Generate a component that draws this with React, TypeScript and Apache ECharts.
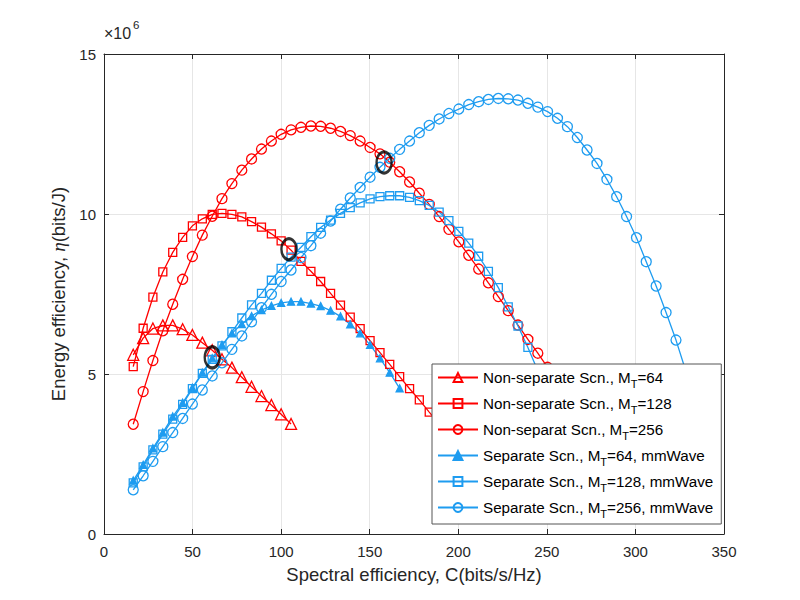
import React, { useEffect, useRef } from "react";
import * as echarts from "echarts";

// Spectral efficiency sample points (bits/s/Hz)
const SE = [
  16.5, 22.1, 27.6, 33.2, 38.8, 44.4, 49.9, 55.5, 61.1, 66.6,
  72.2, 77.8, 83.3, 88.9, 94.5, 100.0, 105.6, 111.2, 116.8, 122.3,
  127.9, 133.5, 139.0, 144.6, 150.2, 155.8, 161.3, 166.9, 172.5, 178.0,
  183.6, 189.2, 194.7, 200.3, 205.9, 211.5, 217.0, 222.6, 228.2, 233.7,
  239.3, 244.9, 250.4, 256.0, 261.6, 267.2, 272.7, 278.3, 283.9, 289.4,
  295.0, 300.6, 306.1, 311.7, 317.3, 322.9, 328.4, 334.0,
];

// Energy efficiency (x10^6 bits/J)
const nonSep64 = [5.6, 6.12, 6.42, 6.52, 6.52, 6.4, 6.22, 5.98, 5.74, 5.46, 5.2, 4.9, 4.6, 4.31, 4.03, 3.74, 3.44];
const nonSep128 = [
  5.23, 6.43, 7.4, 8.19, 8.8, 9.27, 9.63, 9.85, 9.99, 10.02,
  9.99, 9.91, 9.76, 9.59, 9.38, 9.16, 8.87, 8.52, 8.21, 7.89,
  7.52, 7.15, 6.78, 6.42, 6.04, 5.67, 5.3, 4.92, 4.54, 4.19,
  3.81, 3.44, 3.07,
];
const nonSep256 = [
  3.43, 4.45, 5.42, 6.35, 7.18, 7.96, 8.67, 9.34, 9.93, 10.48,
  10.95, 11.37, 11.72, 12.03, 12.28, 12.49, 12.63, 12.71, 12.75, 12.74,
  12.68, 12.58, 12.45, 12.28, 12.08, 11.88, 11.62, 11.32, 11.0, 10.65,
  10.3, 9.92, 9.52, 9.13, 8.71, 8.28, 7.85, 7.42, 6.98, 6.53,
  6.08, 5.65, 5.21, 4.77, 4.33, 3.9,
];
const sep64 = [
  1.67, 2.16, 2.68, 3.17, 3.67, 4.1, 4.57, 5.04, 5.49, 5.91,
  6.27, 6.56, 6.81, 7.0, 7.13, 7.22, 7.26, 7.26, 7.2, 7.12,
  6.98, 6.8, 6.55, 6.27, 5.91, 5.49, 5.04, 4.55,
];
const sep128 = [
  1.6, 2.1, 2.63, 3.12, 3.59, 4.05, 4.54, 5.02, 5.46, 5.88,
  6.32, 6.75, 7.16, 7.52, 7.93, 8.3, 8.65, 8.96, 9.29, 9.58,
  9.81, 10.02, 10.2, 10.35, 10.47, 10.54, 10.57, 10.57, 10.52, 10.42,
  10.27, 10.06, 9.79, 9.46, 9.09, 8.68, 8.21, 7.7, 7.1, 6.5,
  5.83, 5.1, 4.3,
];
const sep256 = [
  1.38, 1.82, 2.27, 2.73, 3.17, 3.61, 4.06, 4.5, 4.94, 5.35,
  5.77, 6.19, 6.63, 7.07, 7.49, 7.89, 8.25, 8.64, 9.01, 9.4,
  9.78, 10.15, 10.5, 10.83, 11.15, 11.46, 11.74, 12.02, 12.28, 12.54,
  12.77, 12.97, 13.14, 13.28, 13.42, 13.51, 13.58, 13.61, 13.6, 13.56,
  13.46, 13.34, 13.2, 12.99, 12.73, 12.39, 12.0, 11.58, 11.08, 10.54,
  9.92, 9.26, 8.51, 7.75, 6.92, 6.06, 5.1, 4.1,
];

// Highlighted crossing points (black ellipses)
const crossings = [
  [61.1, 5.52],
  [104.4, 8.9],
  [158.1, 11.61],
];

const legendParts = [
  ["Non-separate Scn., M", "T", "=64"],
  ["Non-separate Scn., M", "T", "=128"],
  ["Non-separat Scn., M", "T", "=256"],
  ["Separate Scn., M", "T", "=64, mmWave"],
  ["Separate Scn., M", "T", "=128, mmWave"],
  ["Separate Scn., M", "T", "=256, mmWave"],
];

const xTicks = { min: 0, max: 350, interval: 50 };
const yTicks = { min: 0, max: 15, interval: 5 };

const RED = "#ff0000";
const BLUE = "#1e9cf0";
const AX = "#262626";
const FONT = "Liberation Sans";

function pairs(ys: number[]) {
  return ys.map((y, i) => [SE[i], y]);
}

export default function App() {
  const ref = useRef<HTMLDivElement>(null);

  useEffect(() => {
    if (!ref.current) return;
    const chart = echarts.init(ref.current, undefined, { renderer: "svg" });

    const seriesDefs = [
      { data: nonSep64, color: RED, symbol: "triangle", size: 11, filled: false },
      { data: nonSep128, color: RED, symbol: "rect", size: 8, filled: false },
      { data: nonSep256, color: RED, symbol: "circle", size: 10, filled: false },
      { data: sep64, color: BLUE, symbol: "triangle", size: 7, filled: true },
      { data: sep128, color: BLUE, symbol: "rect", size: 8, filled: false },
      { data: sep256, color: BLUE, symbol: "circle", size: 10, filled: false },
    ];
    const names = legendParts.map((p) => p.join(""));

    const series: any[] = seriesDefs.map((d, k) => ({
      name: names[k],
      type: "line",
      data: pairs(d.data),
      symbol: d.symbol,
      symbolSize: d.size,
      showAllSymbol: true,
      z: 2,
      lineStyle: { color: d.color, width: 1.3 },
      itemStyle: {
        color: d.filled ? d.color : "rgba(0,0,0,0)",
        borderColor: d.color,
        borderWidth: 1.3,
      },
      emphasis: { disabled: true },
    }));

    series.push({
      name: "crossings",
      type: "scatter",
      data: crossings,
      symbol: "circle",
      symbolSize: [15, 21],
      z: 5,
      itemStyle: { color: "rgba(0,0,0,0)", borderColor: "#000", borderWidth: 2.8 },
      emphasis: { disabled: true },
    });

    const axisCommon = {
      type: "value",
      axisLine: { show: true, onZero: false, lineStyle: { color: AX, width: 1 } },
      axisTick: { show: true, inside: true, length: 5, lineStyle: { color: AX } },
    };

    chart.setOption({
      animation: false,
      textStyle: { fontFamily: FONT },
      grid: { left: 104, right: 76, top: 54, bottom: 66, containLabel: false },
      xAxis: [
        {
          ...axisCommon,
          position: "bottom",
          ...xTicks,
          axisLabel: { fontSize: 15, color: AX, margin: 10, fontFamily: FONT },
          splitLine: { show: true, lineStyle: { color: "#e6e6e6", width: 1 } },
          name: "Spectral efficiency, C(bits/s/Hz)",
          nameLocation: "middle",
          nameGap: 31,
          nameTextStyle: { fontSize: 18.5, color: AX, fontFamily: FONT },
        },
        {
          ...axisCommon,
          position: "top",
          ...xTicks,
          axisLabel: { show: false },
          splitLine: { show: false },
        },
      ],
      yAxis: [
        {
          ...axisCommon,
          position: "left",
          ...yTicks,
          axisLabel: { fontSize: 15, color: AX, margin: 8, fontFamily: FONT },
          splitLine: { show: true, lineStyle: { color: "#e6e6e6", width: 1 } },
          name: "{a|Energy efficiency, }{e|η}{a|(bits/J)}",
          nameLocation: "middle",
          nameGap: 32,
          nameTextStyle: {
            color: AX,
            rich: {
              a: { fontSize: 18.5, color: AX, fontFamily: FONT },
              e: { fontSize: 19, color: AX, fontFamily: "Liberation Serif", fontStyle: "italic" },
            },
          },
        },
        {
          ...axisCommon,
          position: "right",
          ...yTicks,
          axisLabel: { show: false },
          splitLine: { show: false },
        },
      ],
      legend: {
        data: names,
        orient: "vertical",
        left: 432,
        top: 364,
        z: 10,
        backgroundColor: "#ffffff",
        borderColor: "#555555",
        borderWidth: 1,
        borderRadius: 0,
        padding: [2, 8, 5, 5],
        itemWidth: 40,
        itemHeight: 11,
        itemGap: 3,
        selectedMode: false,
        formatter: (name: string) => {
          const p = legendParts[names.indexOf(name)];
          return `{n|${p[0]}}{s|${p[1]}}{n|${p[2]}}`;
        },
        textStyle: {
          color: "#000",
          fontFamily: FONT,
          fontSize: 15.2,
          rich: {
            n: { fontSize: 15.2, lineHeight: 16, color: "#000", fontFamily: FONT },
            s: { fontSize: 11, lineHeight: 4, padding: [12, 0, 0, 0], color: "#000", fontFamily: FONT },
          },
        },
      },
      graphic: [
        {
          type: "text",
          left: 104,
          top: 25,
          style: { text: "×10", fontSize: 16, fill: AX, fontFamily: FONT },
        },
        {
          type: "text",
          left: 133,
          top: 19,
          style: { text: "6", fontSize: 11.5, fill: AX, fontFamily: FONT },
        },
      ],
      series,
    });

    return () => chart.dispose();
  }, []);

  return (
    <div
      ref={ref}
      style={{ position: "fixed", left: 0, top: 0, width: 800, height: 600, background: "#fff" }}
    />
  );
}
